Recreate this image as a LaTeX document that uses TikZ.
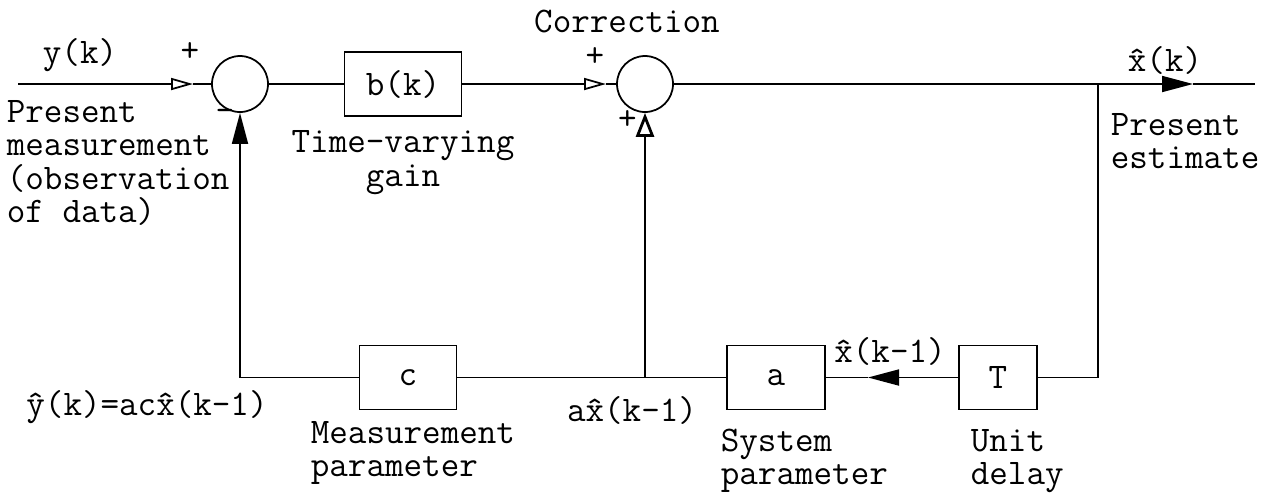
\documentclass[tikz,border=0pt]{standalone}
\usetikzlibrary{arrows.meta,positioning}

\begin{document}
\begin{tikzpicture}[line width=1pt, font=\ttfamily\fontsize{20.5}{19}\selectfont,
		sumnode/.style={circle, draw, minimum size=1.12cm, inner sep=0pt},
		blockbox/.style={draw, minimum height=1.28cm, inner sep=0pt},
		lbl/.style={align=left, inner sep=0pt},
		openhead/.style={-{Triangle[open,length=0.44cm,width=0.24cm]}},
		openbig/.style={-{Triangle[open,length=0.48cm,width=0.36cm,line width=1.6pt]}},
		fullhead/.style={-{Triangle[length=0.62cm,width=0.32cm]}}]
	\useasboundingbox (0,0) rectangle (25.46,-9.86);
	% blocks
	\node[sumnode] (sum1) at (4.8,-1.68) {};
	\node[blockbox, minimum width=2.34cm] (gain) at (8.06,-1.68) {b(k)};
	\node[sumnode] (sum2) at (12.9,-1.68) {};
	\node[blockbox, minimum width=1.94cm] (meas) at (8.16,-7.55) {c};
	\node[blockbox, minimum width=1.96cm] (sys) at (15.52,-7.55) {a};
	\node[blockbox, minimum width=1.56cm] (delay) at (19.96,-7.55) {T};
	% points on the lines
	\coordinate (yin) at (0.36,-1.68);
	\coordinate (tip1) at (3.86,-1.68);
	\coordinate (tip2) at (12.12,-1.68);
	\coordinate (branch) at (21.96,-1.68);
	\coordinate (tip3) at (23.86,-1.68);
	\coordinate (xout) at (25.1,-1.68);
	\coordinate (tip4) at (17.36,-7.55);
	\coordinate (tap) at (sum2 |- sys);
	% connections
	\draw[openhead] (yin) -- (tip1);
	\draw (tip1) -- (sum1);
	\draw (sum1) -- (gain);
	\draw[openhead] (gain) -- (tip2);
	\draw (tip2) -- (sum2);
	\draw[fullhead] (sum2) -- (tip3);
	\draw (tip3) -- (xout);
	\draw (branch) |- (delay);
	\draw[fullhead] (delay) -- (tip4);
	\draw (tip4) -- (sys);
	\draw (sys) -- (meas);
	\draw[openbig] (tap) -- (sum2);
	\draw[fullhead] (meas) -| (sum1);
	% labels
	\node[lbl] (yk) at (1.6,-1.1) {y(k)};
	\node[lbl] (plus1) at (3.8,-1.04) {+};
	\node[lbl] (minus1) at (4.5,-2.3) {-};
	\node[lbl, anchor=west] (presmeas) at (0.12,-3.26) {Present\\measurement\\(observation\\of data)};
	\node[lbl, align=center] (gainlbl) at (8.06,-3.25) {Time-varying\\gain};
	\node[lbl] (corr) at (12.54,-0.42) {Correction};
	\node[lbl] (plus2) at (11.9,-1.15) {+};
	\node[lbl] (plus3) at (12.55,-2.4) {+};
	\node[lbl] (xk) at (23.3,-1.2) {\^{x}(k)};
	\node[lbl, anchor=west] (presest) at (22.2,-2.82) {Present\\estimate};
	\node[lbl] (xkm) at (17.8,-7.02) {\^{x}(k-1)};
	\node[lbl] (axkm) at (12.64,-8.2) {a\^{x}(k-1)};
	\node[lbl] (yhat) at (2.94,-8.14) {\^{y}(k)=ac\^{x}(k-1)};
	\node[lbl, anchor=west] (measlbl) at (6.2,-9.06) {Measurement\\parameter};
	\node[lbl, anchor=west] (syslbl) at (14.4,-9.22) {System\\parameter};
	\node[lbl, anchor=west] (delaylbl) at (19.4,-9.22) {Unit\\delay};
\end{tikzpicture}
\end{document}
